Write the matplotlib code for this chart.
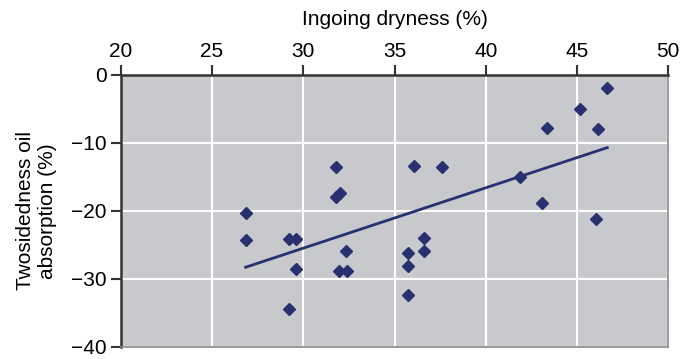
import numpy as np
import matplotlib
matplotlib.use("Agg")
import matplotlib.pyplot as plt

plt.rcParams['font.family'] = ['Liberation Sans', 'DejaVu Sans']

# Ingoing dryness (%) and two-sidedness of oil absorption (%)
dryness = [26.84, 26.84, 29.24, 29.24, 29.6, 29.6, 31.78, 31.78, 32.0, 32.36,
           31.96, 32.38, 36.09, 37.58, 41.88, 43.08, 43.33, 45.17, 46.17, 46.66,
           46.06, 36.64, 36.64, 35.75, 35.75, 35.75]
twosidedness = [-20.3, -24.3, -34.4, -24.2, -24.2, -28.6, -13.5, -17.9, -17.4, -25.9,
                -28.8, -28.8, -13.4, -13.6, -15.0, -18.8, -7.8, -5.0, -7.9, -1.9,
                -21.2, -24.0, -25.9, -26.2, -28.1, -32.4]

x_ticks = [20, 25, 30, 35, 40, 45, 50]
y_ticks = [0, -10, -20, -30, -40]

navy = '#28306f'

fig = plt.figure(figsize=(6.81, 3.59), dpi=100)
ax = fig.add_axes([0.1773, 0.0343, 0.8040, 0.7568])
ax.set_facecolor('#c8c9cd')

x = np.array(dryness)
y = np.array(twosidedness)
slope, intercept = np.polyfit(x, y, 1)
xl = np.array([x.min(), x.max()])
ax.plot(xl, slope * xl + intercept, color=navy, lw=2, zorder=3)
ax.plot(x, y, linestyle='none', marker='D', markersize=6.5, color=navy, zorder=4)

ax.set_xlim(20, 50)
ax.set_ylim(-40, 0)
ax.set_xticks(x_ticks)
ax.set_yticks(y_ticks)
ax.set_yticklabels(['0', '\u221210', '\u221220', '\u221230', '\u221240'])
ax.grid(True, color='white', lw=1.5)
ax.set_axisbelow(True)

ax.xaxis.tick_top()
ax.xaxis.set_label_position('top')
ax.tick_params(axis='x', direction='out', length=7, width=1.5, color='#333333',
               labelsize=15, pad=3)
ax.tick_params(axis='y', direction='out', length=7, width=1.5, color='#333333',
               labelsize=15, pad=3)
ax.set_xlabel('Ingoing dryness (%)', fontsize=15, labelpad=12)
ax.set_ylabel('Twosidedness oil\nabsorption (%)', fontsize=15, labelpad=10,
              linespacing=1.2)

for side in ['top', 'left']:
    ax.spines[side].set_color('#333333')
    ax.spines[side].set_linewidth(1.8)
for side in ['right', 'bottom']:
    ax.spines[side].set_color('#8a8a8a')
    ax.spines[side].set_linewidth(1.2)

fig.savefig('out.png', dpi=100)
